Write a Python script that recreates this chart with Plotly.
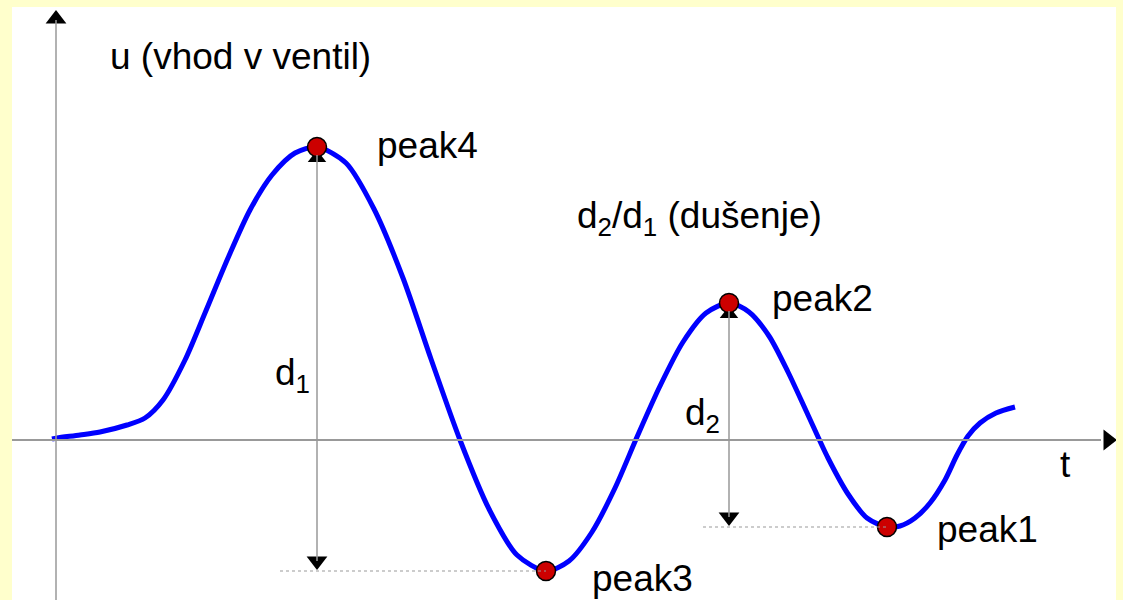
import plotly.graph_objects as go

# Response curve u(t) (arbitrary units)
t_vals = [-0.04, 0.01, 0.24, 0.44, 0.71, 0.89, 1.07, 1.29, 1.49, 1.72, 1.94, 2.16, 2.39, 2.61,
          2.90, 3.18, 3.47, 3.75, 4.04, 4.33, 4.61, 4.90, 5.13, 5.36, 5.59, 5.81, 6.04, 6.27,
          6.50, 6.73, 6.93, 7.13, 7.32, 7.52, 7.72, 7.92, 8.11, 8.31, 8.44, 8.59, 8.74, 8.89,
          9.01, 9.12, 9.24, 9.40, 9.59]
u_vals = [0.01, 0.02, 0.05, 0.08, 0.15, 0.22, 0.40, 0.80, 1.27, 1.82, 2.30, 2.65, 2.87, 2.93,
          2.77, 2.31, 1.62, 0.81, 0.00, -0.69, -1.15, -1.31, -1.21, -0.92, -0.48, 0.03, 0.54, 0.98,
          1.27, 1.37, 1.28, 1.04, 0.68, 0.25, -0.18, -0.54, -0.78, -0.87, -0.86, -0.78, -0.63, -0.40,
          -0.15, 0.04, 0.17, 0.27, 0.33]

# Peaks
peak_names = ["peak4", "peak3", "peak2", "peak1"]
peak_t = [2.61, 4.90, 6.73, 8.31]
peak_u = [2.93, -1.31, 1.37, -0.87]

X_RANGE = [-0.44, 10.60]
Y_RANGE = [-1.60, 4.33]

FONT = dict(family="Liberation Sans, Arial, sans-serif", size=37, color="black")
GRAY = "#999999"

fig = go.Figure()

shapes = []
# axes
shapes.append(dict(type="line", xref="x", yref="y", x0=0, x1=0, y0=Y_RANGE[0], y1=4.20,
                   line=dict(color=GRAY, width=1.5)))
shapes.append(dict(type="line", xref="x", yref="y", x0=X_RANGE[0], x1=10.45, y0=0, y1=0,
                   line=dict(color=GRAY, width=2)))
# d1 measurement
shapes.append(dict(type="line", xref="x", yref="y", x0=peak_t[0], x1=peak_t[0], y0=peak_u[0] - 0.08,
                   y1=peak_u[1] + 0.1, line=dict(color=GRAY, width=1.5)))
shapes.append(dict(type="line", xref="x", yref="y", x0=2.24, x1=peak_t[1], y0=peak_u[1], y1=peak_u[1],
                   line=dict(color=GRAY, width=1, dash="dot")))
# d2 measurement
shapes.append(dict(type="line", xref="x", yref="y", x0=peak_t[2], x1=peak_t[2], y0=peak_u[2] - 0.08,
                   y1=peak_u[3] + 0.1, line=dict(color=GRAY, width=1.5)))
shapes.append(dict(type="line", xref="x", yref="y", x0=6.47, x1=peak_t[3], y0=peak_u[3], y1=peak_u[3],
                   line=dict(color=GRAY, width=1, dash="dot")))

# arrowheads
fig.add_trace(go.Scatter(x=[0], y=[4.21], mode="markers", hoverinfo="skip",
                         marker=dict(symbol="triangle-up", size=18, color="black")))
fig.add_trace(go.Scatter(x=[10.52], y=[0], mode="markers", hoverinfo="skip",
                         marker=dict(symbol="triangle-right", size=18, color="black")))
fig.add_trace(go.Scatter(x=[peak_t[0], peak_t[2]], y=[peak_u[0] - 0.11, peak_u[2] - 0.11],
                         mode="markers", hoverinfo="skip",
                         marker=dict(symbol="triangle-up", size=16, color="black")))
fig.add_trace(go.Scatter(x=[peak_t[0], peak_t[2]], y=[peak_u[1] + 0.10, peak_u[3] + 0.10],
                         mode="markers", hoverinfo="skip",
                         marker=dict(symbol="triangle-down", size=18, color="black")))

# curve
fig.add_trace(go.Scatter(x=t_vals, y=u_vals, mode="lines", hoverinfo="skip",
                         line=dict(color="#0000FF", width=5, shape="spline", smoothing=0.8)))
# peak markers
fig.add_trace(go.Scatter(x=peak_t, y=peak_u, mode="markers", hoverinfo="skip",
                         marker=dict(size=19, color="#CC0000", line=dict(color="black", width=1.5))))

labels = [
    ("u (vhod v ventil)", 0.52, 3.84),
    ("peak4", 3.19, 2.95),
    ("d<sub>2</sub>/d<sub>1</sub> (dušenje)", 5.19, 2.22),
    ("peak2", 7.14, 1.42),
    ("d<sub>1</sub>", 2.17, 0.65),
    ("d<sub>2</sub>", 6.27, 0.25),
    ("t", 10.02, -0.24),
    ("peak1", 8.79, -0.89),
    ("peak3", 5.34, -1.38),
]
annotations = [dict(text=txt, x=x, y=y, xref="x", yref="y", xanchor="left", yanchor="middle",
                    showarrow=False, font=FONT) for txt, x, y in labels]

fig.update_layout(
    width=1123, height=600,
    margin=dict(l=12, r=7, t=7, b=0),
    paper_bgcolor="#FFFFCC", plot_bgcolor="white",
    showlegend=False,
    shapes=shapes, annotations=annotations,
    xaxis=dict(range=X_RANGE, visible=False, fixedrange=True),
    yaxis=dict(range=Y_RANGE, visible=False, fixedrange=True),
)
fig.write_html("out.html", config={"displayModeBar": False},
               post_script="document.body.style.margin='0';document.body.style.background='#FFFFCC';")
